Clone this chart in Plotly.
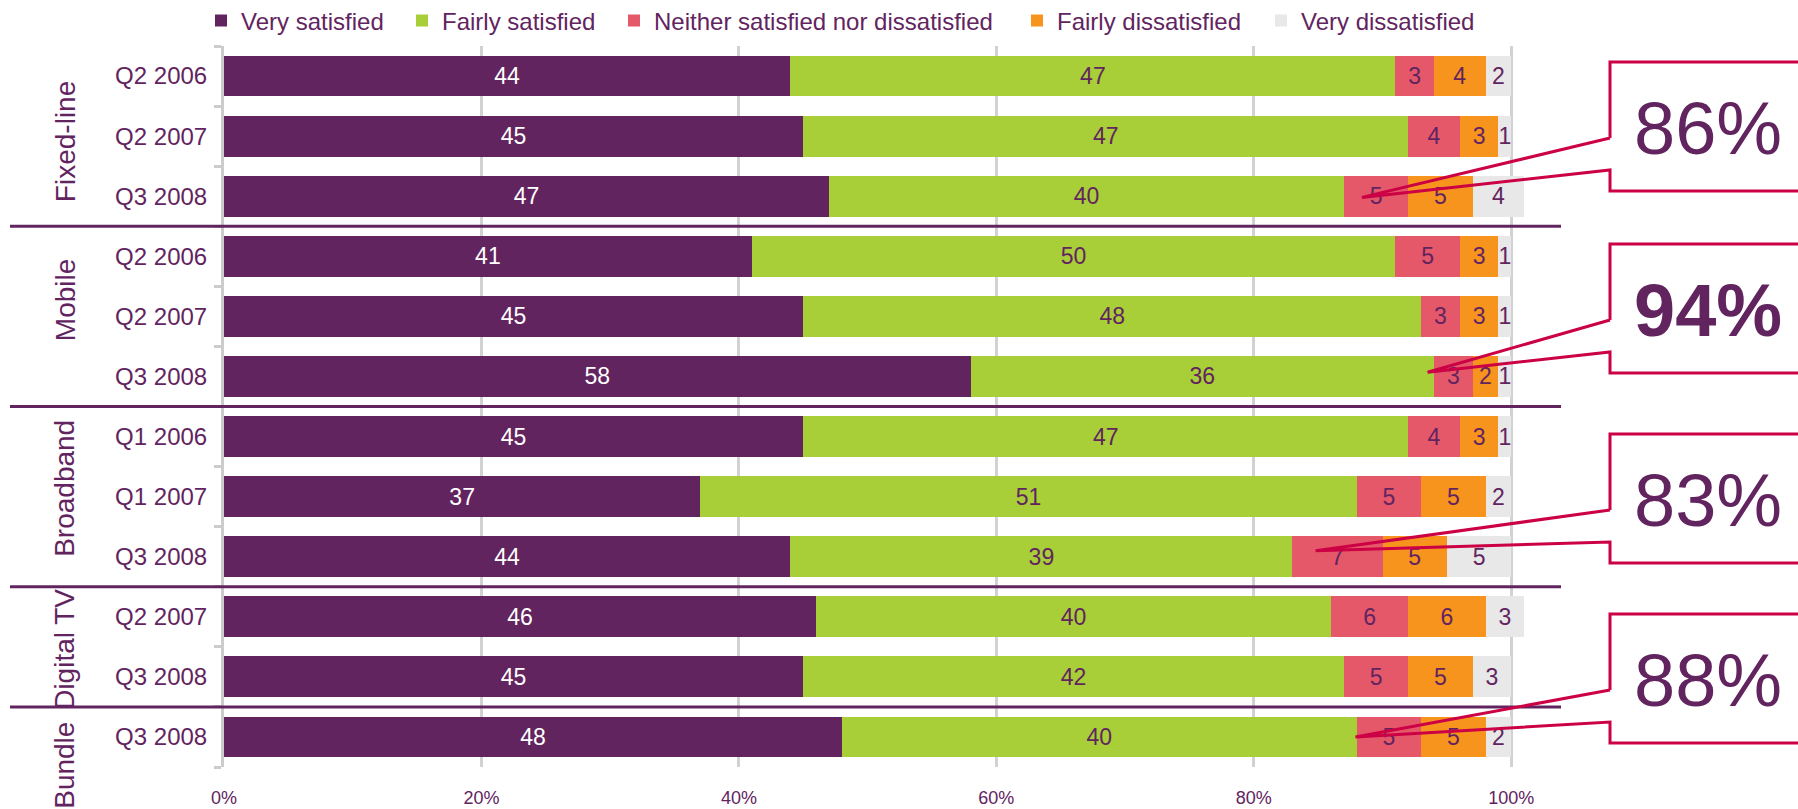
import plotly.graph_objects as go

# ---------------- data ----------------
groups = ["Fixed-line", "Mobile", "Broadband", "Digital TV", "Bundle"]
group_sizes = [3, 3, 3, 2, 1]
periods = ["Q2 2006", "Q2 2007", "Q3 2008",
           "Q2 2006", "Q2 2007", "Q3 2008",
           "Q1 2006", "Q1 2007", "Q3 2008",
           "Q2 2007", "Q3 2008",
           "Q3 2008"]
series_names = ["Very satisfied", "Fairly satisfied",
                "Neither satisfied nor dissatisfied",
                "Fairly dissatisfied", "Very dissatisfied"]
very_satisfied = [44, 45, 47, 41, 45, 58, 45, 37, 44, 46, 45, 48]
fairly_satisfied = [47, 47, 40, 50, 48, 36, 47, 51, 39, 40, 42, 40]
neither = [3, 4, 5, 5, 3, 3, 4, 5, 7, 6, 5, 5]
fairly_dissatisfied = [4, 3, 5, 3, 3, 2, 3, 5, 5, 6, 5, 5]
very_dissatisfied = [2, 1, 4, 1, 1, 1, 1, 2, 5, 3, 3, 2]
x_tick_values = [0, 20, 40, 60, 80, 100]
x_tick_labels = ["0%", "20%", "40%", "60%", "80%", "100%"]
callout_texts = ["86%", "94%", "83%", "88%"]
callout_rows = [2, 5, 8, 11]

# ---------------- style / layout config ----------------
colors = ["#62245f", "#a8cf38", "#e5586a", "#f7941d", "#e8e8e8"]
text_colors = ["#ffffff", "#62245f", "#62245f", "#62245f", "#62245f"]
PURPLE = "#62245f"
CRIMSON = "#cc0044"
FONT = "Arial, Liberation Sans, sans-serif"
W, H = 1798, 809
PL, PT = 224, 46          # plot area left / top (px)
PW, PH = 1313, 721        # plot area width / height (px)
XMAX = 102
N = len(periods)

def px2x(px):
    return px / W

def px2y(py):
    return 1 - py / H

series = [very_satisfied, fairly_satisfied, neither, fairly_dissatisfied, very_dissatisfied]
rows = list(range(N))

fig = go.Figure()
legend_text_starts = [241, 442, 654, 1057, 1301]
for i, (name, vals) in enumerate(zip(series_names, series)):
    lg = "legend" if i == 0 else f"legend{i+1}"
    fig.add_trace(go.Bar(
        name=name, y=rows, x=vals, orientation="h",
        marker=dict(color=colors[i], line=dict(width=0)),
        width=0.68,
        text=[str(v) for v in vals], texttemplate="%{text}", textposition="inside",
        insidetextanchor="middle", textangle=0, constraintext="none",
        textfont=dict(family=FONT, size=23, color=text_colors[i]),
        legend=lg, showlegend=True, hoverinfo="name+x",
    ))

legends = {}
for i, ts in enumerate(legend_text_starts):
    key = "legend" if i == 0 else f"legend{i+1}"
    legends[key] = dict(
        x=px2x(ts - 40), xanchor="left", y=px2y(21), yanchor="middle",
        orientation="h", bgcolor="rgba(0,0,0,0)", borderwidth=0,
        font=dict(family=FONT, size=24, color=PURPLE),
        itemclick=False, itemdoubleclick=False, visible=True,
    )

shapes = []
# separators between groups
b = 0
for s in group_sizes[:-1]:
    b += s
    shapes.append(dict(type="line", xref="paper", yref="y",
                       x0=px2x(10), x1=px2x(1561), y0=b - 0.5, y1=b - 0.5,
                       line=dict(color=PURPLE, width=3), layer="above"))

# callouts
box_tops = [62, 244, 434, 614]
box_h = 129
box_left, box_right = 1610, 1815
tip_x = [88.4, 93.5, 84.8, 87.9]
tip_dy = [0.02, -0.07, -0.1, 0.0]
bold = [False, True, False, False]
annotations = []
for k, txt in enumerate(callout_texts):
    top = box_tops[k]
    bot = top + box_h
    a1, a2 = top + 76, top + 108
    L, R = px2x(box_left), px2x(box_right)
    shapes.append(dict(type="rect", xref="paper", yref="paper",
                       x0=L, x1=R, y0=px2y(bot), y1=px2y(top),
                       fillcolor="white", line=dict(width=0), layer="above"))
    tip_px = PL + tip_x[k] / XMAX * PW
    tip_py = PT + (callout_rows[k] + tip_dy[k] + 0.5) / N * PH
    tx, ty = px2x(tip_px), px2y(tip_py)
    path = (f"M{L},{px2y(a1)} L{L},{px2y(top)} L{R},{px2y(top)} L{R},{px2y(bot)} "
            f"L{L},{px2y(bot)} L{L},{px2y(a2)} L{tx},{ty} L{L},{px2y(a1)}")
    shapes.append(dict(type="path", xref="paper", yref="paper", path=path,
                       fillcolor="rgba(0,0,0,0)",
                       line=dict(color=CRIMSON, width=3), layer="above"))
    t = f"<b>{txt}</b>" if bold[k] else txt
    annotations.append(dict(xref="paper", yref="paper", x=px2x(1708),
                            y=px2y(top + box_h / 2 + 2), text=t, showarrow=False,
                            xanchor="center", yanchor="middle",
                            font=dict(family=FONT, size=74, color=PURPLE)))

# group labels
group_dy = [0.1, -0.27, -0.13, 0.05, 0.48]
start = 0
for g, s, dy in zip(groups, group_sizes, group_dy):
    c = start + (s - 1) / 2 + dy
    annotations.append(dict(xref="paper", yref="y", x=px2x(65), y=c, text=g,
                            textangle=-90, showarrow=False,
                            xanchor="center", yanchor="middle",
                            font=dict(family=FONT, size=28, color=PURPLE)))
    start += s

fig.update_layout(
    width=W, height=H, autosize=False,
    margin=dict(l=0, r=0, t=0, b=0, pad=0, autoexpand=False),
    paper_bgcolor="white", plot_bgcolor="white",
    barmode="stack", showlegend=True,
    font=dict(family=FONT, color=PURPLE),
    shapes=shapes, annotations=annotations,
    **legends,
)
fig.update_xaxes(domain=[PL / W, (PL + PW) / W],
                 range=[0, XMAX], tickvals=x_tick_values, ticktext=x_tick_labels,
                 showgrid=True, gridcolor="#d2d2d2", gridwidth=3, zeroline=False,
                 showline=False, ticks="", ticklabelstandoff=18,
                 tickfont=dict(family=FONT, size=18, color=PURPLE))
fig.update_yaxes(domain=[1 - (PT + PH) / H, 1 - PT / H],
                 range=[N - 0.5, -0.5], tickvals=rows, ticktext=periods,
                 showgrid=False, zeroline=False, showline=True,
                 linecolor="#cccccc", linewidth=3, ticks="",
                 ticklabelstandoff=9,
                 tickfont=dict(family=FONT, size=24, color=PURPLE),
                 minor=dict(tickvals=[r - 0.5 for r in range(N + 1)],
                            ticks="outside", ticklen=7, tickwidth=3,
                            tickcolor="#cccccc", showgrid=False))

fig.write_html("out.html", config={"displayModeBar": False},
               post_script="document.body.style.margin='0';document.body.style.overflow='hidden';")
